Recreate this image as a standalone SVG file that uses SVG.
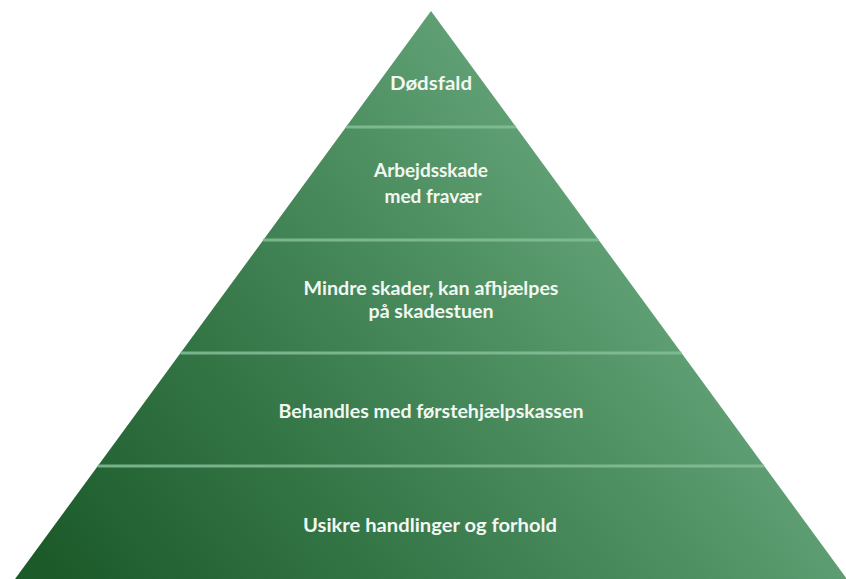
<svg xmlns="http://www.w3.org/2000/svg" width="846" height="579" viewBox="0 0 846 579">
<defs>
<linearGradient id="g" gradientUnits="userSpaceOnUse" x1="60" y1="579" x2="640" y2="130">
<stop offset="0" stop-color="#1c5a2a"/>
<stop offset="0.45" stop-color="#3b7d4e"/>
<stop offset="1" stop-color="#69a97e"/>
</linearGradient>
<style>
.tier{fill:url(#g)}
.sep{stroke:#86bf98;stroke-width:3;opacity:0.85}
.lbl{fill:#f2f7f2;font-family:Lato,"Open Sans",sans-serif;font-weight:700;font-size:19px;text-anchor:middle}
</style>
</defs>
<g id="tier1">
<polygon class="tier" points="431,11 516,127 346,127"/>
<text class="lbl" x="431" y="90" textLength="82" lengthAdjust="spacingAndGlyphs">Dødsfald</text>
</g>
<g id="tier2">
<polygon class="tier" points="346,127 516,127 598.7,240 263.3,240"/>
<text class="lbl" x="431" y="177" textLength="114" lengthAdjust="spacingAndGlyphs">Arbejdsskade</text>
<text class="lbl" x="433" y="203" textLength="97" lengthAdjust="spacingAndGlyphs">med fravær</text>
</g>
<g id="tier3">
<polygon class="tier" points="263.3,240 598.7,240 681.5,353 180.5,353"/>
<text class="lbl" x="431" y="295" textLength="255" lengthAdjust="spacingAndGlyphs">Mindre skader, kan afhjælpes</text>
<text class="lbl" x="431" y="318" textLength="125" lengthAdjust="spacingAndGlyphs">på skadestuen</text>
</g>
<g id="tier4">
<polygon class="tier" points="180.5,353 681.5,353 764.2,466 97.8,466"/>
<text class="lbl" x="431" y="418" textLength="305" lengthAdjust="spacingAndGlyphs">Behandles med førstehjælpskassen</text>
</g>
<g id="tier5">
<polygon class="tier" points="97.8,466 764.2,466 847,579 15,579"/>
<text class="lbl" x="430" y="532" textLength="254" lengthAdjust="spacingAndGlyphs">Usikre handlinger og forhold</text>
</g>
<g id="connectors">
<line class="sep" x1="346" y1="127" x2="516" y2="127"/>
<line class="sep" x1="263.3" y1="240" x2="598.7" y2="240"/>
<line class="sep" x1="180.5" y1="353" x2="681.5" y2="353"/>
<line class="sep" x1="97.8" y1="466" x2="764.2" y2="466"/>
</g>
</svg>
